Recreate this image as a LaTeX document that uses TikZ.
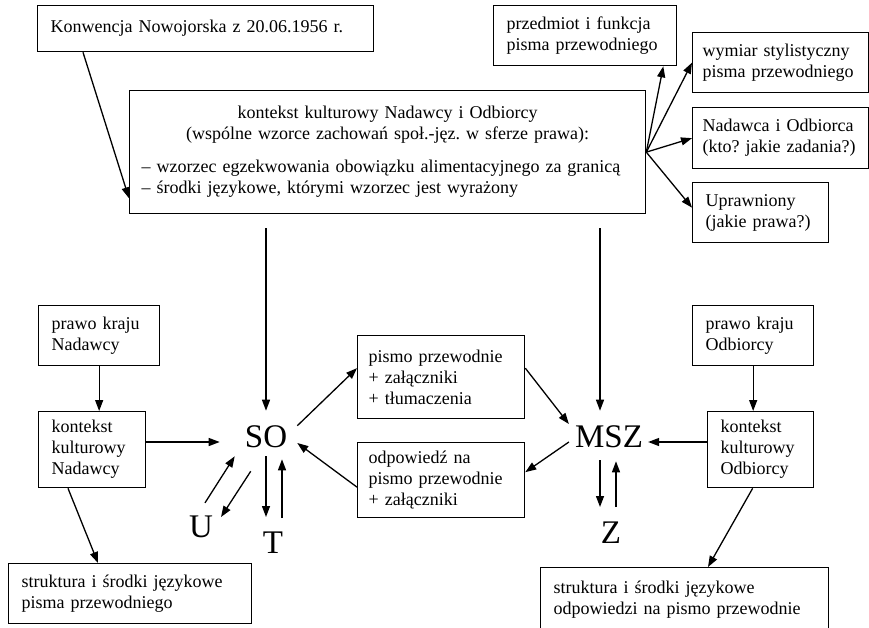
\documentclass[tikz,border=0pt]{standalone}
\usepackage{fontspec}
\setmainfont{Liberation Serif}
\usetikzlibrary{arrows.meta}
\frenchspacing

\begin{document}
\begin{tikzpicture}[
  x=1pt, y=-1pt,
  box/.style={
    draw,
    line width=1.3pt,
    anchor=north west,
    align=left,
    inner xsep=13pt,
    inner ysep=0pt,
    font=\fontsize{18pt}{21pt}\selectfont
  },
  big_label/.style={
    inner sep=0pt,
    font=\fontsize{33pt}{36pt}\selectfont
  },
  arr/.style={
    line width=1.3pt,
    -{Triangle[length=11pt,width=8pt]}
  }
]%
\useasboundingbox (0,0) rectangle (869,627);

% gorna czesc
\node[box, text width=310pt, minimum height=46pt] (konw) at (37,5) {Konwencja Nowojorska z 20.06.1956 r.};
\node[box, text width=492pt, minimum height=123pt, inner xsep=12pt] (kontekst) at (129,90) {%
  {\centering kontekst kulturowy Nadawcy i Odbiorcy\\
  (wspólne wzorce zachowań społ.-jęz. w sferze prawa):\par}
  \vspace{12pt}\noindent
  – wzorzec egzekwowania obowiązku alimentacyjnego za granicą\\
  – środki językowe, którymi wzorzec jest wyrażony\par
  \vspace{5pt}};
\node[box, text width=157pt, minimum height=60pt] (przedm) at (493,5) {przedmiot i funkcja\\pisma przewodniego};
\node[box, text width=156pt, minimum height=60pt, inner xsep=10pt] (wymiar) at (692,32) {wymiar stylistyczny\\pisma przewodniego};
\node[box, text width=156pt, minimum height=61pt, inner xsep=10pt] (nadodb) at (692,107) {Nadawca i Odbiorca\\(kto? jakie zadania?)};
\node[box, text width=110pt, minimum height=60pt] (upraw) at (692,182) {Uprawniony\\(jakie prawa?)};

% srodek
\node[big_label] (SO) at (266,437) {SO};
\node[big_label] (MSZ) at (609,437) {MSZ};
\node[big_label] (U) at (201,527) {U};
\node[big_label] (T) at (273,543) {T};
\node[big_label] (Z) at (611,533) {Z};
\node[box, text width=145pt, minimum height=83pt, inner xsep=11pt] (pismo) at (357,335) {pismo przewodnie\\+ załączniki\\+ tłumaczenia};
\node[box, text width=145pt, minimum height=75pt, inner xsep=11pt] (odp) at (357,442) {odpowiedź na\\pismo przewodnie\\+ załączniki};

% strona Nadawcy
\node[box, text width=95pt, minimum height=60pt] (prawoN) at (38,305) {prawo kraju\\Nadawcy};
\node[box, text width=81pt, minimum height=76pt] (kontN) at (38,411) {kontekst\\kulturowy\\Nadawcy};
\node[box, text width=217pt, minimum height=60pt] (strN) at (8,563) {struktura i środki językowe\\pisma przewodniego};

% strona Odbiorcy
\node[box, text width=95pt, minimum height=60pt] (prawoO) at (692,305) {prawo kraju\\Odbiorcy};
\node[box, text width=80pt, minimum height=76pt] (kontO) at (707,411) {kontekst\\kulturowy\\Odbiorcy};
\node[box, text width=262pt, minimum height=64pt] (strO) at (540,567) {struktura i środki językowe\\odpowiedzi na pismo przewodnie};

% strzalki
\draw[arr] ([xshift=46pt]konw.south west) -- ([yshift=16pt]kontekst.south west);
\draw[arr] (kontekst.east) -- ([xshift=-14pt]przedm.south east);
\draw[arr] (kontekst.east) -- (wymiar.west);
\draw[arr] (kontekst.east) -- (nadodb.west);
\draw[arr] (kontekst.east) -- ([yshift=5pt]upraw.west);
\draw[arr, shorten <=14pt, shorten >=15pt] (kontekst.south -| SO) -- (SO.north);
\draw[arr, shorten <=14pt, shorten >=15pt] ([xshift=-9pt]kontekst.south -| MSZ) -- ([xshift=-9pt]MSZ.north);

\draw[arr] (prawoN.south) -- (prawoN.south |- kontN.north);
\draw[arr] ([yshift=-5pt]kontN.east |- SO) -- ([xshift=-25pt,yshift=-5pt]SO.west);
\draw[arr] ([xshift=30pt]kontN.south west) -- ([xshift=90pt]strN.north west);

\draw[arr] ([xshift=10pt]SO.north east) -- ([yshift=9pt]pismo.west);
\draw[arr] ([yshift=-7pt]odp.west) -- ([xshift=10pt,yshift=-6pt]SO.east);
\draw[arr] ([yshift=9pt]pismo.east) -- ([xshift=-6pt,yshift=13pt]MSZ.west);
\draw[arr] ([xshift=-6pt,yshift=-5pt]MSZ.west) -- ([yshift=8pt]odp.east);

\draw[arr] ([yshift=-5pt]kontO.west |- MSZ) -- ([xshift=5pt,yshift=-5pt]MSZ.east);
\draw[arr] (prawoO.south) -- (prawoO.south |- kontO.north);
\draw[arr] ([xshift=-8pt]kontO.south) -- ([xshift=168pt]strO.north west);

\draw[arr] ([xshift=4pt,yshift=13pt]U.north) -- ([xshift=-10pt,yshift=-8pt]SO.south west);
\draw[arr] ([xshift=6pt,yshift=-23pt]SO.south west) -- ([xshift=20pt,yshift=10pt]U.center);
\draw[arr, shorten <=8pt, shorten >=15pt] (SO.south) -- (SO.south |- T.north);
\draw[arr, shorten <=14pt, shorten >=11pt] ([xshift=16pt]SO.south |- T.north) -- ([xshift=16pt]SO.south);
\draw[arr, shorten <=12pt, shorten >=15pt] ([xshift=-9pt]MSZ.south) -- ([xshift=-9pt]MSZ.south |- Z.north);
\draw[arr, shorten <=15pt, shorten >=13pt] ([xshift=7pt]MSZ.south |- Z.north) -- ([xshift=7pt]MSZ.south);
\end{tikzpicture}
\end{document}
